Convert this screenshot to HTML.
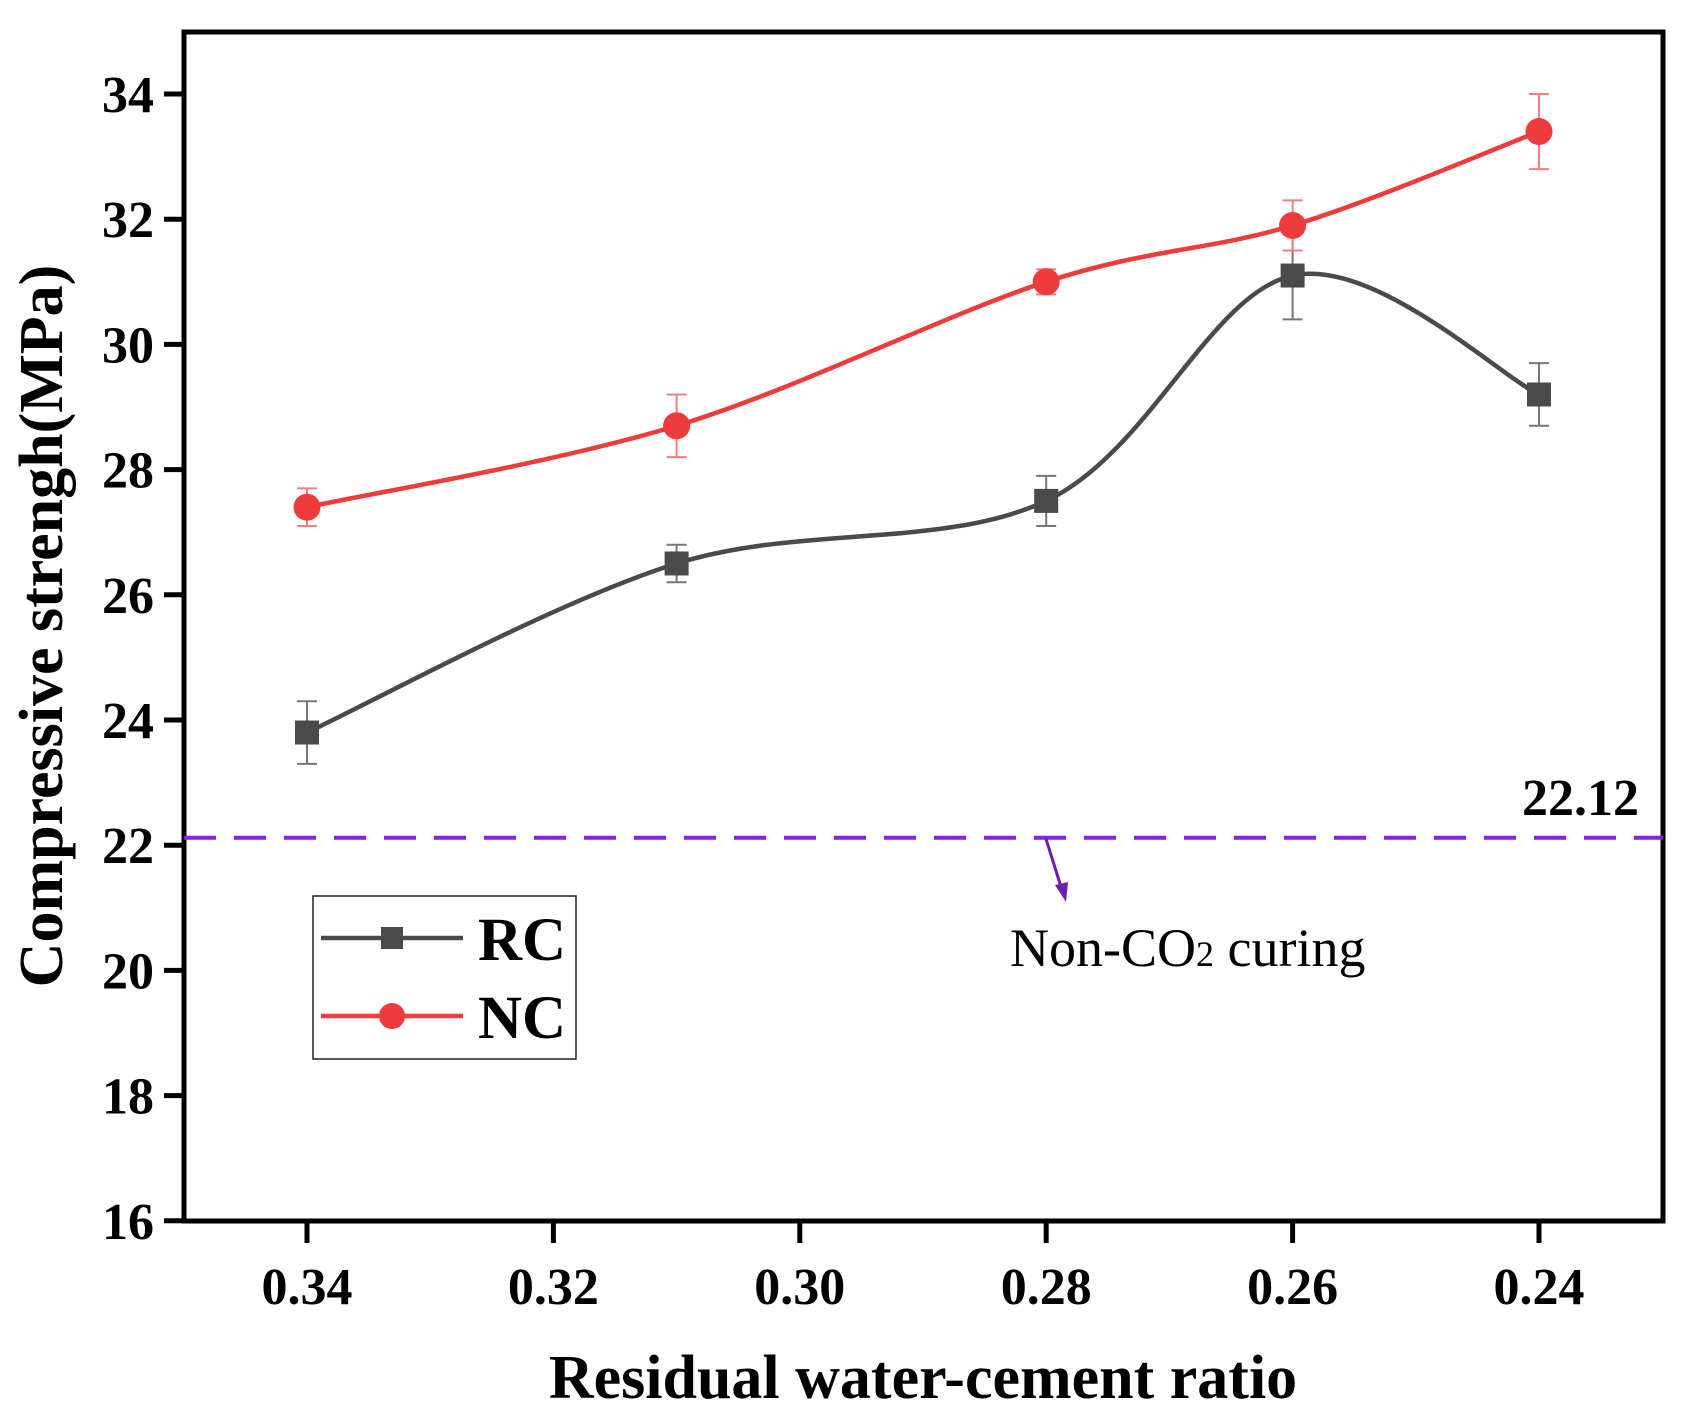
<!DOCTYPE html>
<html><head><meta charset="utf-8"><style>
html,body{margin:0;padding:0;background:#fff;}
svg{display:block;font-family:"Liberation Serif",serif;}
</style></head><body>
<svg id="chart" width="1682" height="1425" viewBox="0 0 1682 1425">
<g id="axes"></g>
<g id="series"></g>
<text x="48" y="626" font-size="62" font-weight="bold" text-anchor="middle" transform="rotate(-90 48 626)" dominant-baseline="middle">Compressive strengh(MPa)</text>
<text x="923" y="1398" font-size="62" font-weight="bold" text-anchor="middle">Residual water-cement ratio</text>
<text x="1639" y="815" font-size="52" font-weight="bold" text-anchor="end">22.12</text>
<text x="1010" y="966" font-size="54">Non-CO<tspan font-size="36">2</tspan> curing</text>
<g>
<line x1="1046" y1="839" x2="1062" y2="890" stroke="#6a1fb0" stroke-width="3"/>
<polygon points="1066,902 1055,885 1068,882" fill="#6a1fb0"/>
</g>
<g>
<rect x="313" y="896" width="263" height="163" fill="#fff" stroke="#222" stroke-width="1.5"/>
<g>
<line x1="321" y1="938" x2="463" y2="938" stroke="#4a4a4a" stroke-width="4.5"/>
<rect x="381" y="927" width="22" height="22" fill="#4a4a4a"/>
<text x="478" y="960" font-size="61" font-weight="bold">RC</text>
</g>
<g>
<line x1="321" y1="1016" x2="463" y2="1016" stroke="#ee3b3b" stroke-width="4.5"/>
<circle cx="392" cy="1016" r="13" fill="#ee3b3b"/>
<text x="478" y="1038" font-size="61" font-weight="bold">NC</text>
</g>
</g>
</svg>
<script>
const xCats = [0.34, 0.31, 0.28, 0.26, 0.24];
const rcValues = [23.8, 26.5, 27.5, 31.1, 29.2];
const rcErrors = [0.5, 0.3, 0.4, 0.7, 0.5];
const ncValues = [27.4, 28.7, 31.0, 31.9, 33.4];
const ncErrors = [0.3, 0.5, 0.2, 0.4, 0.6];
const yTicks = [16, 18, 20, 22, 24, 26, 28, 30, 32, 34];
const xTicks = ["0.34", "0.32", "0.30", "0.28", "0.26", "0.24"];
const refValue = 22.12;

const NS = "http://www.w3.org/2000/svg";
const L = 184, R = 1663, T = 32, B = 1221;
function x(v){ return 307 + (0.34 - v) / 0.01 * 123.2; }
function y(v){ return 94 + (34 - v) * 62.6; }
function mk(tag, attrs, parent){ const e = document.createElementNS(NS, tag); for (const k in attrs) e.setAttribute(k, attrs[k]); parent.appendChild(e); return e; }
const axes = document.getElementById('axes');
const series = document.getElementById('series');

const frame = mk('rect', {x:L, y:T, width:R-L, height:B-T, fill:'none', stroke:'#000', 'stroke-width':5}, axes);



yTicks.forEach(t => {
  const tk = mk('line', {x1:L-20, x2:L, y1:y(t), y2:y(t), stroke:'#000', 'stroke-width':5}, axes);
  
  
  const lb = mk('text', {x:L-30, y:y(t)+18, 'font-size':52, 'font-weight':'bold', 'text-anchor':'end'}, axes);
  lb.textContent = t;
  
  
});
xTicks.forEach(t => {
  const xv = x(parseFloat(t));
  const tk = mk('line', {x1:xv, x2:xv, y1:B, y2:B+22, stroke:'#000', 'stroke-width':5}, axes);
  
  
  const lb = mk('text', {x:xv, y:B+83, 'font-size':52, 'font-weight':'bold', 'text-anchor':'middle'}, axes);
  lb.textContent = t;
  
  
});

const ref = mk('line', {x1:L, x2:R, y1:y(refValue), y2:y(refValue), stroke:'#8b1eea', 'stroke-width':4, 'stroke-dasharray':'32 18'}, series);



function smoothPath(pts){
  let d = `M${pts[0][0]},${pts[0][1]}`;
  for (let i = 0; i < pts.length - 1; i++) {
    const p0 = pts[i-1] || pts[i], p1 = pts[i], p2 = pts[i+1], p3 = pts[i+2] || p2;
    const c1 = [p1[0] + (p2[0]-p0[0])/6, p1[1] + (p2[1]-p0[1])/6];
    const c2 = [p2[0] - (p3[0]-p1[0])/6, p2[1] - (p3[1]-p1[1])/6];
    d += ` C${c1[0]},${c1[1]} ${c2[0]},${c2[1]} ${p2[0]},${p2[1]}`;
  }
  return d;
}
function drawSeries(name, vals, errs, color, errColor, shape){
  const g = mk('g', {}, series);
  
  
  const pts = vals.map((v,i) => [x(xCats[i]), y(v)]);
  const ln = mk('path', {d:smoothPath(pts), fill:'none', stroke:color, 'stroke-width':4.5}, g);
  
  
  vals.forEach((v,i) => {
    const cx = x(xCats[i]);
    const eb = mk('path', {d:`M${cx},${y(v+errs[i])}V${y(v-errs[i])}M${cx-10},${y(v+errs[i])}H${cx+10}M${cx-10},${y(v-errs[i])}H${cx+10}`, stroke:errColor, 'stroke-width':2, fill:'none'}, g);
    
    
    let m;
    if (shape === 'square') m = mk('rect', {x:cx-12, y:y(v)-12, width:24, height:24, fill:color}, g);
    else m = mk('circle', {cx:cx, cy:y(v), r:13.5, fill:color}, g);
    
    
  });
}
drawSeries('rc', rcValues, rcErrors, '#4a4a4a', '#777', 'square');
drawSeries('nc', ncValues, ncErrors, '#ee3b3b', '#f08080', 'circle');
</script>
</body></html>
